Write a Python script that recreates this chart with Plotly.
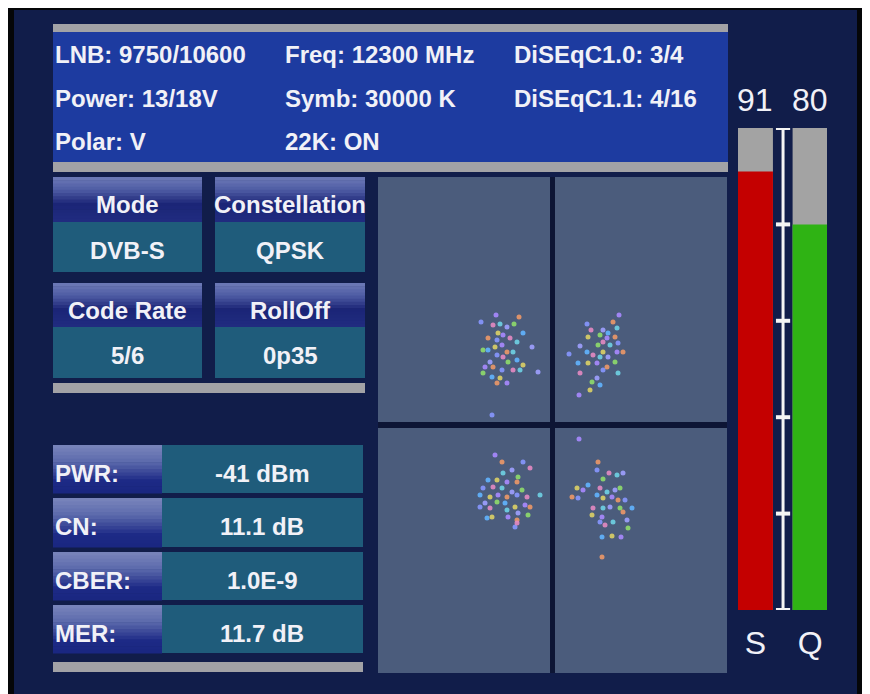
import plotly.graph_objects as go

# ---------------- data ----------------
info_col1 = ["LNB: 9750/10600", "Power: 13/18V", "Polar: V"]
info_col2 = ["Freq: 12300 MHz", "Symb: 30000 K", "22K: ON"]
info_col3 = ["DiSEqC1.0: 3/4", "DiSEqC1.1: 4/16"]

param_names = ["Mode", "Constellation", "Code Rate", "RollOff"]
param_values = ["DVB-S", "QPSK", "5/6", "0p35"]

meas_names = ["PWR:", "CN:", "CBER:", "MER:"]
meas_values = ["-41 dBm", "11.1 dB", "1.0E-9", "11.7 dB"]

bar_labels = ["S", "Q"]
bar_values = [91, 80]
bar_max = 100
scale_ticks = [0, 20, 40, 60, 80, 100]

# constellation points (I, Q in display units)
tl_i = [-56, -33, -71, -59, -52, -45, -38, -29, -54, -49, -64, -55, -42, -35, -20, -69, -64, -57, -50, -45,
        -55, -49, -39, -62, -44, -35, -29, -67, -59, -50, -39, -32, -14, -69, -60, -52, -45, -55, -60]
tl_q = [110, 108, 103, 100, 101, 98, 101, 92, 92, 90, 87, 85, 87, 83, 78, 75, 75, 78, 80, 73,
        70, 68, 73, 63, 63, 65, 60, 58, 58, 55, 55, 55, 53, 52, 48, 47, 42, 42, 10]
tr_i = [67, 61, 35, 39, 65, 51, 48, 56, 36, 55, 63, 66, 51, 58, 28, 46, 35, 51, 65, 71,
        17, 41, 48, 56, 63, 26, 36, 45, 55, 51, 28, 66, 45, 40, 48, 38, 27]
tr_q = [110, 103, 101, 95, 97, 95, 90, 92, 88, 87, 88, 82, 83, 80, 79, 80, 73, 73, 73, 73,
        71, 70, 68, 68, 63, 62, 62, 62, 58, 55, 52, 52, 47, 43, 40, 35, 30]
bl_i = [-57, -50, -29, -22, -49, -40, -34, -64, -55, -45, -35, -69, -59, -50, -40, -30, -72, -62, -54, -45,
        -35, -25, -12, -67, -55, -47, -37, -27, -22, -72, -62, -45, -34, -24, -65, -60, -44, -35, -37, -35]
bl_q = [-30, -37, -37, -43, -48, -45, -52, -55, -55, -57, -57, -63, -62, -63, -67, -65, -70, -72, -70, -72,
        -70, -72, -70, -78, -77, -78, -82, -80, -82, -82, -83, -85, -88, -90, -93, -92, -92, -95, -102, -98]
br_i = [27, 46, 45, 57, 65, 71, 51, 36, 25, 31, 20, 26, 48, 55, 63, 68, 45, 51, 60, 66,
        73, 41, 51, 58, 68, 80, 40, 50, 71, 48, 53, 61, 75, 76, 50, 60, 69, 50]
br_q = [-14, -37, -45, -48, -50, -48, -54, -60, -63, -65, -72, -73, -63, -67, -65, -63, -70, -73, -72, -75,
        -75, -83, -83, -82, -83, -83, -90, -92, -87, -97, -100, -97, -95, -103, -112, -111, -112, -132]

# ---------------- styling helpers ----------------
W, H = 870, 694
OFF = 8  # page margin of the browser body; layout numbers below are window pixels
FONT = "Liberation Sans, Arial, sans-serif"
WEIGHT = "bold"
TXT = "#f1f1f7"
NAVY = "#111d4a"
BLUE = "#1d3ba0"
GRAY = "#a2a2a6"
TEAL = "#1f5c7b"
PANEL = "#4b5c7c"
DIV = "#0d1535"

shapes = []
annotations = []


def fx(x):
    return (x - OFF) / W


def fy(y):
    return 1 - (y - OFF) / H


def rect(x0, y0, x1, y1, color):
    shapes.append(dict(type="rect", xref="paper", yref="paper",
                       x0=fx(x0), x1=fx(x1), y0=fy(y1), y1=fy(y0),
                       fillcolor=color, line_width=0, layer="below"))


def hex2rgb(h):
    h = h.lstrip("#")
    return [int(h[i:i + 2], 16) for i in (0, 2, 4)]


def interp(stops, t):
    for (t0, c0), (t1, c1) in zip(stops[:-1], stops[1:]):
        if t0 <= t <= t1:
            f = 0 if t1 == t0 else (t - t0) / (t1 - t0)
            a, b = hex2rgb(c0), hex2rgb(c1)
            return "rgb(%d,%d,%d)" % tuple(round(a[k] + (b[k] - a[k]) * f) for k in range(3))
    return stops[-1][1]


def grad_rect(x0, y0, x1, y1, stops, n=14):
    h = (y1 - y0) / n
    for i in range(n):
        rect(x0, y0 + i * h, x1, y0 + (i + 1) * h + 0.6, interp(stops, (i + 0.5) / n))


def text(x, y, s, size=24, anchor="left"):
    annotations.append(dict(xref="paper", yref="paper", x=fx(x), y=fy(y), text=s,
                            xanchor=anchor, yanchor="middle", showarrow=False,
                            font=dict(family=FONT, size=size, color=TXT, weight=WEIGHT)))


# ---------------- background ----------------
rect(8, 8, W + OFF, H + OFF, "#050608")
rect(14, 10, 857, H + OFF, NAVY)

# info panel
rect(53, 24, 728, 32, GRAY)
rect(53, 32, 728, 162, BLUE)
rect(53, 162, 728, 172, GRAY)
row_y = [54, 98, 141]
for i, s in enumerate(info_col1):
    text(53, row_y[i], s)
for i, s in enumerate(info_col2):
    text(283, row_y[i], s)
for i, s in enumerate(info_col3):
    text(512, row_y[i], s)

# parameter boxes
head_stops = [(0, "#6e7bb8"), (0.3, "#4d5aa2"), (0.6, "#1b2577"), (1, "#202c80")]
box_x = [(53, 202), (215, 365)]
box_rows = [(177, 222, 272), (283, 327, 378)]
for k, (name, val) in enumerate(zip(param_names, param_values)):
    bx0, bx1 = box_x[k % 2]
    hy0, hy1, vy1 = box_rows[k // 2]
    grad_rect(bx0, hy0, bx1, hy1, head_stops)
    rect(bx0, hy1, bx1, vy1, TEAL)
    text((bx0 + bx1) / 2, (hy0 + hy1) / 2 + 5, name, anchor="center")
    text((bx0 + bx1) / 2, (hy1 + vy1) / 2 + 3, val, anchor="center")
rect(53, 383, 365, 393, GRAY)

# measurement rows
lab_stops = [(0, "#7a86bc"), (0.35, "#5c6aac"), (0.75, "#1d2a86"), (1, "#1a2680")]
meas_rows = [(445, 493), (498, 547), (552, 600), (605, 653)]
for (y0, y1), name, val in zip(meas_rows, meas_names, meas_values):
    grad_rect(53, y0, 162, y1, lab_stops)
    rect(162, y0, 363, y1, TEAL)
    text(53, (y0 + y1) / 2 + 4, name)
    text(262, (y0 + y1) / 2 + 4, val, anchor="center")
rect(53, 662, 363, 672, GRAY)

# constellation panel
rect(378, 177, 727, 673, PANEL)
rect(550, 177, 555, 673, DIV)
rect(378, 422, 727, 428, DIV)

# ---------------- traces ----------------
palette = ["#a98aff", "#8797ff", "#6fd2e4", "#8fdc6c", "#dcd066", "#ec9868", "#e489c2", "#9fa0ff", "#62b4ff"]
fig = go.Figure()
for ii, qq in [(tl_i, tl_q), (tr_i, tr_q), (bl_i, bl_q), (br_i, br_q)]:
    fig.add_trace(go.Scatter(
        x=ii, y=qq, mode="markers", xaxis="x3", yaxis="y3", showlegend=False,
        marker=dict(size=5, color=[palette[(j * 5) % len(palette)] for j in range(len(ii))],
                    opacity=0.9, line_width=0)))

fig.add_trace(go.Bar(x=bar_labels, y=[bar_max] * len(bar_labels), width=0.64,
                     marker=dict(color="#a3a3a3", line_width=0), xaxis="x2", yaxis="y2", showlegend=False))
fig.add_trace(go.Bar(x=bar_labels, y=bar_values, width=0.64,
                     marker=dict(color=["#c40000", "#2fb314"], line_width=0),
                     xaxis="x2", yaxis="y2", showlegend=False))

for lab, v in zip(bar_labels, bar_values):
    annotations.append(dict(xref="x2", yref="y2", x=lab, y=bar_max, text=str(v), showarrow=False,
                            xanchor="center", yanchor="bottom", yshift=8,
                            font=dict(family=FONT, size=32, color=TXT)))

# scale between bars
SX = 0.505
shapes.append(dict(type="line", xref="x2", yref="y2", x0=SX, x1=SX, y0=0, y1=bar_max,
                   line=dict(color="#f4f4f4", width=3), layer="above"))
for t in scale_ticks:
    shapes.append(dict(type="line", xref="x2", yref="y2", x0=SX - 0.13, x1=SX + 0.13, y0=t, y1=t,
                       line=dict(color="#f4f4f4", width=4), layer="above"))

fig.update_layout(
    width=W, height=H, margin=dict(l=0, r=0, t=0, b=0),
    paper_bgcolor="#050608", plot_bgcolor="rgba(0,0,0,0)",
    barmode="overlay", showlegend=False,
    shapes=shapes, annotations=annotations,
    xaxis=dict(visible=False), yaxis=dict(visible=False),
    xaxis2=dict(domain=[fx(738), fx(827)], anchor="y2", type="category", range=[-0.32, 1.31],
                showgrid=False, zeroline=False, showline=False, ticks="",
                tickfont=dict(family=FONT, size=32, color=TXT), ticklabelstandoff=11),
    yaxis2=dict(domain=[fy(610), fy(128)], anchor="x2", range=[0, bar_max], visible=False),
    xaxis3=dict(domain=[fx(378), fx(727)], anchor="y3", range=[-174, 175], visible=False),
    yaxis3=dict(domain=[fy(673), fy(177)], anchor="x3", range=[-248, 248], visible=False),
)

fig.write_html("out.html")
